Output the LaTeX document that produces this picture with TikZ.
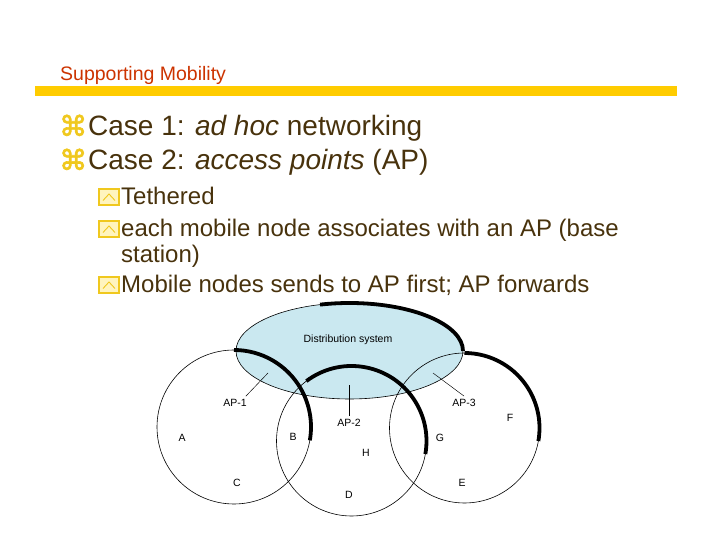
\documentclass[tikz,border=0pt]{standalone}
\usepackage{fontspec}
\setmainfont{Liberation Sans}
\newfontfamily\symfont[FakeBold=2.5]{DejaVu Sans}
\definecolor{titlered}{RGB}{204,51,0}
\definecolor{baryellow}{RGB}{255,204,0}
\definecolor{bulyellow}{RGB}{240,200,30}
\definecolor{bulfill}{RGB}{255,244,190}
\definecolor{textbrown}{RGB}{72,50,12}
\definecolor{dsblue}{RGB}{202,232,240}
\tikzset{
  lvlone/.style={anchor=base west,inner sep=0pt,text=textbrown,font=\fontsize{28}{34}\selectfont},
  lvltwo/.style={anchor=base west,inner sep=0pt,text=textbrown,font=\fontsize{24}{28}\selectfont},
  cmdbul/.style={anchor=base west,inner sep=0pt,text=bulyellow,font=\symfont\fontsize{28}{30}\selectfont},
  subbox/.style={draw=bulyellow,fill=bulfill,line width=1.2pt,minimum width=20pt,minimum height=16pt,inner sep=0pt,
    path picture={\draw[bulyellow,line width=0.9pt]
      ([xshift=-6pt,yshift=-3.5pt]path picture bounding box.center) -- ([yshift=3pt]path picture bounding box.center)
      -- ([xshift=6pt,yshift=-3.5pt]path picture bounding box.center);}},
  lbl/.style={font=\fontsize{10.5}{12}\selectfont,inner sep=1pt},
  thin/.style={line width=0.6pt},
  heavy/.style={line width=3.8pt}
}
\begin{document}
\begin{tikzpicture}[x=1pt,y=1pt]
\useasboundingbox (0,0) rectangle (720,540);
% heading
\node[anchor=base west,inner sep=0pt,text=titlered,font=\fontsize{19.5}{22}\selectfont] (title) at (60,459) {Supporting Mobility};
\fill[baryellow] (35,444) rectangle (677,454);
% bullets
\node[cmdbul] (b1) at (59,404) {⌘};
\node[lvlone] (t1) at (88,404) {Case 1: \textit{ad hoc} networking};
\node[cmdbul] (b2) at (59,370) {⌘};
\node[lvlone] (t2) at (88,370) {Case 2: \textit{access points} (AP)};
\node[subbox] (s1) at (109,343) {};
\node[lvltwo] (t3) at (121,335) {Tethered};
\node[subbox] (s2) at (109,311) {};
\node[lvltwo] (t4) at (121,303) {each mobile node associates with an AP (base};
\node[lvltwo] (t5) at (121,277) {station)};
\node[subbox] (s3) at (109,255) {};
\node[lvltwo] (t6) at (121,247) {Mobile nodes sends to AP first; AP forwards};
% distribution system and cells
\coordinate (ds) at (349.5,189);
\coordinate (c1) at (234,113);
\coordinate (c2) at (351.5,99);
\coordinate (c3) at (464.5,112);
\filldraw[fill=dsblue,draw=black,thin] (ds) ellipse (113.5 and 48);
\draw[heavy] ([shift={(105:113.5 and 48)}]ds) arc (105:0:113.5 and 48);
\draw[thin] (c1) circle (77);
\draw[thin] (c2) circle (75);
\draw[thin] (c3) circle (75);
\draw[heavy] ([shift={(90:77)}]c1) arc (90:-10:77);
\draw[heavy] ([shift={(127:75)}]c2) arc (127:-10:75);
\draw[heavy] ([shift={(90:75)}]c3) arc (90:-10:75);
\node[lbl] (dist) at (348,200) {Distribution system};
\node[lbl] (ap1) at (235,137) {AP-1};
\node[lbl] (ap2) at (349,117) {AP-2};
\node[lbl] (ap3) at (464,137) {AP-3};
\coordinate (p1) at (268,167);
\coordinate (p2) at (349,155);
\coordinate (p3) at (433,167);
\draw[line width=0.45pt] ([shift={(-2pt,2pt)}]ap1.north east) -- (p1);
\draw[line width=0.45pt] ([yshift=2pt]ap2.north) -- (p2);
\draw[line width=0.45pt] ([yshift=2pt]ap3.north) -- (p3);
\node[lbl] (a) at (182,102) {A};
\node[lbl] (b) at (293,103) {B};
\node[lbl] (c) at (237,57) {C};
\node[lbl] (d) at (349,45) {D};
\node[lbl] (h) at (366,87) {H};
\node[lbl] (g) at (440,102) {G};
\node[lbl] (f) at (510,122) {F};
\node[lbl] (e) at (462,57) {E};
\end{tikzpicture}
\end{document}
